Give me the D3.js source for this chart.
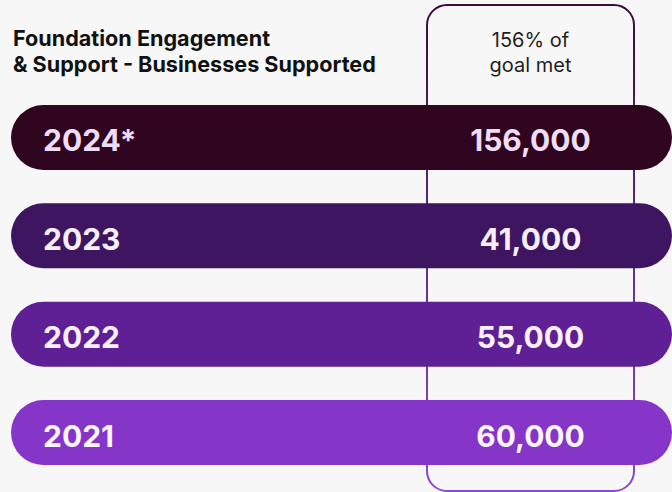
<!DOCTYPE html>
<html>
<head>
<meta charset="utf-8">
<script src="https://cdn.jsdelivr.net/npm/d3@7"></script>
<style>
  html, body { margin: 0; padding: 0; background: #f7f7f7; }
  svg { display: block; font-family: Inter, "Noto Sans", sans-serif; }
</style>
</head>
<body>
<div class="container"></div>
<script>
// data
var years = ["2024*", "2023", "2022", "2021"];
var supported = [156000, 41000, 55000, 60000];
var barColors = ["#2f0520", "#3d1560", "#5f1f95", "#8535c8"];
var labelColors = ["#efdcf6", "#f6eefa", "#f8f0fb", "#faf4fc"];
var goalText = ["156% of", "goal met"];
var titleLines = ["Foundation Engagement", "& Support - Businesses Supported"];

var svgWidth = 672;
var svgHeight = 492;

var svg = d3.select(".container")
  .append("svg")
  .attr("width", svgWidth)
  .attr("height", svgHeight);

svg.append("rect")
  .attr("width", svgWidth)
  .attr("height", svgHeight)
  .attr("fill", "#f7f7f7");

// y scale for the rows
var yScale = d3.scaleBand()
  .domain(years)
  .range([105, 465])
  .paddingInner(0.34)
  .paddingOuter(0);

// x range for the pills
var xScale = d3.scaleLinear()
  .domain([0, 1])
  .range([11, 672]);

// highlight column
var colX = 427, colW = 207;
var grad = svg.append("defs").append("linearGradient")
  .attr("id", "colGrad")
  .attr("x1", 0).attr("y1", 0).attr("x2", 0).attr("y2", 1);
grad.append("stop").attr("offset", "0%").attr("stop-color", "#3c0b3e");
grad.append("stop").attr("offset", "100%").attr("stop-color", "#8c48d2");

svg.append("rect")
  .attr("x", colX)
  .attr("y", 5)
  .attr("width", colW)
  .attr("height", 486)
  .attr("rx", 20)
  .attr("fill", "none")
  .attr("stroke", "url(#colGrad)")
  .attr("stroke-width", 2);

var colCenter = colX + colW / 2;

svg.selectAll(".goal")
  .data(goalText)
  .enter()
  .append("text")
  .attr("class", "goal")
  .attr("x", colCenter)
  .attr("y", (d, i) => 47 + i * 25)
  .attr("text-anchor", "middle")
  .attr("font-size", 20)
  .attr("fill", "#1e1e1e")
  .text(d => d);

// title
svg.selectAll(".title")
  .data(titleLines)
  .enter()
  .append("text")
  .attr("class", "title")
  .attr("x", 13)
  .attr("y", (d, i) => 46 + i * 26)
  .attr("font-size", 21.6)
  .attr("font-weight", 700)
  .attr("fill", "#111")
  .text(d => d);

// pills
var rows = svg.selectAll(".row")
  .data(years)
  .enter()
  .append("g")
  .attr("class", "row");

rows.append("rect")
  .attr("x", xScale(0))
  .attr("y", d => yScale(d))
  .attr("width", xScale(1) - xScale(0))
  .attr("height", yScale.bandwidth())
  .attr("rx", yScale.bandwidth() / 2)
  .attr("fill", (d, i) => barColors[i]);

rows.append("text")
  .attr("x", 43)
  .attr("y", d => yScale(d) + yScale.bandwidth() / 2 + 14)
  .attr("font-size", 30)
  .attr("font-weight", 700)
  .attr("fill", (d, i) => labelColors[i])
  .text(d => d);

rows.append("text")
  .attr("x", colCenter)
  .attr("y", d => yScale(d) + yScale.bandwidth() / 2 + 14)
  .attr("text-anchor", "middle")
  .attr("font-size", 30)
  .attr("font-weight", 700)
  .attr("fill", (d, i) => labelColors[i])
  .text((d, i) => d3.format(",")(supported[i]));
</script>
</body>
</html>
